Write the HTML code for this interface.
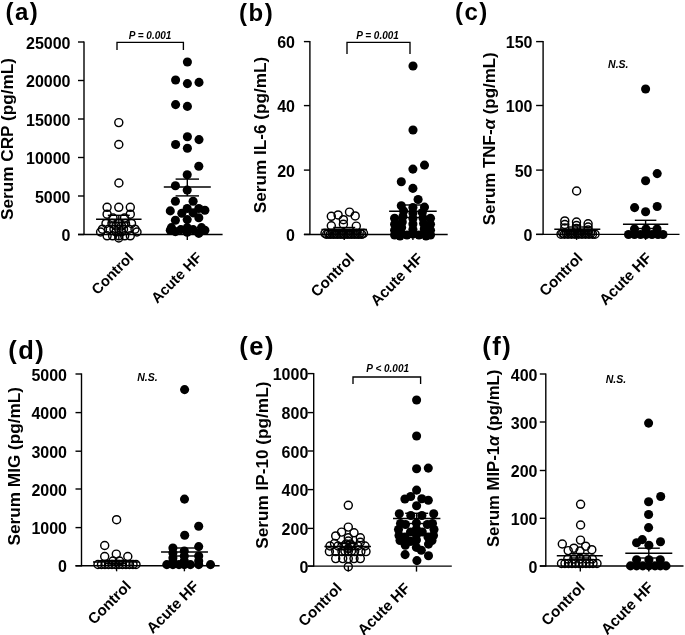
<!DOCTYPE html>
<html><head><meta charset="utf-8"><style>
html,body{margin:0;padding:0;background:#fff;}
svg{display:block;filter:grayscale(100%);}
text{font-family:"Liberation Sans", sans-serif;fill:#000;}
</style></head><body>
<svg width="685" height="635" viewBox="0 0 685 635">
<rect width="685" height="635" fill="#fff"/>
<line x1="84.0" y1="41.4" x2="84.0" y2="235.1" stroke="#000" stroke-width="1.4"/>
<line x1="78.0" y1="42" x2="84.0" y2="42" stroke="#000" stroke-width="1.4"/>
<text x="70.5" y="48.5" font-size="16" font-weight="bold" font-style="normal" text-anchor="end" >25000</text>
<line x1="78.0" y1="80.5" x2="84.0" y2="80.5" stroke="#000" stroke-width="1.4"/>
<text x="70.5" y="87.0" font-size="16" font-weight="bold" font-style="normal" text-anchor="end" >20000</text>
<line x1="78.0" y1="119" x2="84.0" y2="119" stroke="#000" stroke-width="1.4"/>
<text x="70.5" y="125.5" font-size="16" font-weight="bold" font-style="normal" text-anchor="end" >15000</text>
<line x1="78.0" y1="157.5" x2="84.0" y2="157.5" stroke="#000" stroke-width="1.4"/>
<text x="70.5" y="164.0" font-size="16" font-weight="bold" font-style="normal" text-anchor="end" >10000</text>
<line x1="78.0" y1="196" x2="84.0" y2="196" stroke="#000" stroke-width="1.4"/>
<text x="70.5" y="202.5" font-size="16" font-weight="bold" font-style="normal" text-anchor="end" >5000</text>
<line x1="78.0" y1="234.5" x2="84.0" y2="234.5" stroke="#000" stroke-width="1.4"/>
<text x="70.5" y="241.0" font-size="16" font-weight="bold" font-style="normal" text-anchor="end" >0</text>
<line x1="78.0" y1="234.5" x2="222.6" y2="234.5" stroke="#000" stroke-width="1.4"/>
<line x1="118.8" y1="234.5" x2="118.8" y2="240.0" stroke="#000" stroke-width="1.4"/>
<line x1="187.3" y1="234.5" x2="187.3" y2="240.0" stroke="#000" stroke-width="1.4"/>
<circle cx="118.8" cy="122.6" r="4.0" fill="none" stroke="#000" stroke-width="1.45"/>
<circle cx="118.8" cy="144.5" r="4.0" fill="none" stroke="#000" stroke-width="1.45"/>
<circle cx="118.9" cy="183" r="4.0" fill="none" stroke="#000" stroke-width="1.45"/>
<circle cx="107.1" cy="207.3" r="4.0" fill="none" stroke="#000" stroke-width="1.45"/>
<circle cx="118.8" cy="207.3" r="4.0" fill="none" stroke="#000" stroke-width="1.45"/>
<circle cx="130.3" cy="207.3" r="4.0" fill="none" stroke="#000" stroke-width="1.45"/>
<circle cx="107.1" cy="214.2" r="4.0" fill="none" stroke="#000" stroke-width="1.45"/>
<circle cx="130.3" cy="214.2" r="4.0" fill="none" stroke="#000" stroke-width="1.45"/>
<circle cx="113" cy="218" r="4.0" fill="none" stroke="#000" stroke-width="1.45"/>
<circle cx="124.5" cy="218" r="4.0" fill="none" stroke="#000" stroke-width="1.45"/>
<circle cx="106" cy="223.4" r="4.0" fill="none" stroke="#000" stroke-width="1.45"/>
<circle cx="112" cy="223.4" r="4.0" fill="none" stroke="#000" stroke-width="1.45"/>
<circle cx="118.8" cy="223.4" r="4.0" fill="none" stroke="#000" stroke-width="1.45"/>
<circle cx="125.5" cy="223.4" r="4.0" fill="none" stroke="#000" stroke-width="1.45"/>
<circle cx="131.5" cy="223.4" r="4.0" fill="none" stroke="#000" stroke-width="1.45"/>
<circle cx="116" cy="226" r="4.0" fill="none" stroke="#000" stroke-width="1.45"/>
<circle cx="121.5" cy="226" r="4.0" fill="none" stroke="#000" stroke-width="1.45"/>
<circle cx="102.5" cy="229.2" r="4.0" fill="none" stroke="#000" stroke-width="1.45"/>
<circle cx="108.6" cy="229.2" r="4.0" fill="none" stroke="#000" stroke-width="1.45"/>
<circle cx="114" cy="229.2" r="4.0" fill="none" stroke="#000" stroke-width="1.45"/>
<circle cx="118.8" cy="229.2" r="4.0" fill="none" stroke="#000" stroke-width="1.45"/>
<circle cx="123.5" cy="229.2" r="4.0" fill="none" stroke="#000" stroke-width="1.45"/>
<circle cx="129" cy="229.2" r="4.0" fill="none" stroke="#000" stroke-width="1.45"/>
<circle cx="135" cy="229.2" r="4.0" fill="none" stroke="#000" stroke-width="1.45"/>
<circle cx="100.6" cy="232" r="4.0" fill="none" stroke="#000" stroke-width="1.45"/>
<circle cx="116" cy="232" r="4.0" fill="none" stroke="#000" stroke-width="1.45"/>
<circle cx="121.5" cy="232" r="4.0" fill="none" stroke="#000" stroke-width="1.45"/>
<circle cx="137" cy="232" r="4.0" fill="none" stroke="#000" stroke-width="1.45"/>
<circle cx="107.1" cy="235.8" r="4.0" fill="none" stroke="#000" stroke-width="1.45"/>
<circle cx="112.6" cy="235.8" r="4.0" fill="none" stroke="#000" stroke-width="1.45"/>
<circle cx="118.8" cy="235.8" r="4.0" fill="none" stroke="#000" stroke-width="1.45"/>
<circle cx="124.7" cy="235.8" r="4.0" fill="none" stroke="#000" stroke-width="1.45"/>
<circle cx="130.3" cy="235.8" r="4.0" fill="none" stroke="#000" stroke-width="1.45"/>
<circle cx="118.8" cy="238" r="4.0" fill="none" stroke="#000" stroke-width="1.45"/>
<circle cx="187.4" cy="62" r="4.55" fill="#000"/>
<circle cx="175.6" cy="80" r="4.55" fill="#000"/>
<circle cx="187.4" cy="83.6" r="4.55" fill="#000"/>
<circle cx="199" cy="82.4" r="4.55" fill="#000"/>
<circle cx="175.6" cy="104.6" r="4.55" fill="#000"/>
<circle cx="187.4" cy="106.4" r="4.55" fill="#000"/>
<circle cx="187.4" cy="136.8" r="4.55" fill="#000"/>
<circle cx="199" cy="139.6" r="4.55" fill="#000"/>
<circle cx="175.6" cy="144.5" r="4.55" fill="#000"/>
<circle cx="187.4" cy="148.2" r="4.55" fill="#000"/>
<circle cx="198.8" cy="166.3" r="4.55" fill="#000"/>
<circle cx="187.2" cy="174.7" r="4.55" fill="#000"/>
<circle cx="175.4" cy="185.7" r="4.55" fill="#000"/>
<circle cx="187.2" cy="190.1" r="4.55" fill="#000"/>
<circle cx="175.4" cy="201.2" r="4.55" fill="#000"/>
<circle cx="193.1" cy="201.2" r="4.55" fill="#000"/>
<circle cx="170.3" cy="210.9" r="4.55" fill="#000"/>
<circle cx="187.2" cy="208.5" r="4.55" fill="#000"/>
<circle cx="198.8" cy="208.5" r="4.55" fill="#000"/>
<circle cx="204.9" cy="210.2" r="4.55" fill="#000"/>
<circle cx="181.8" cy="213.3" r="4.55" fill="#000"/>
<circle cx="193.1" cy="212.9" r="4.55" fill="#000"/>
<circle cx="175.4" cy="220.2" r="4.55" fill="#000"/>
<circle cx="187.2" cy="219.6" r="4.55" fill="#000"/>
<circle cx="198.8" cy="217.8" r="4.55" fill="#000"/>
<circle cx="171.4" cy="227.6" r="4.55" fill="#000"/>
<circle cx="170.3" cy="230.3" r="4.55" fill="#000"/>
<circle cx="187.2" cy="227.6" r="4.55" fill="#000"/>
<circle cx="180.8" cy="229.6" r="4.55" fill="#000"/>
<circle cx="193.1" cy="229.6" r="4.55" fill="#000"/>
<circle cx="201.5" cy="227.6" r="4.55" fill="#000"/>
<circle cx="204.9" cy="230.3" r="4.55" fill="#000"/>
<circle cx="198.8" cy="233.4" r="4.55" fill="#000"/>
<circle cx="187.2" cy="232.3" r="4.55" fill="#000"/>
<circle cx="175.4" cy="231.6" r="4.55" fill="#000"/>
<line x1="96.05" y1="219.2" x2="141.55" y2="219.2" stroke="#000" stroke-width="1.5"/>
<line x1="107.8" y1="215.3" x2="129.8" y2="215.3" stroke="#000" stroke-width="1.4"/>
<line x1="107.8" y1="222.8" x2="129.8" y2="222.8" stroke="#000" stroke-width="1.4"/>
<line x1="118.8" y1="215.3" x2="118.8" y2="222.8" stroke="#000" stroke-width="1.4"/>
<line x1="163.8" y1="186.9" x2="210.8" y2="186.9" stroke="#000" stroke-width="1.5"/>
<line x1="175.60000000000002" y1="179.1" x2="199.0" y2="179.1" stroke="#000" stroke-width="1.4"/>
<line x1="175.60000000000002" y1="195.9" x2="199.0" y2="195.9" stroke="#000" stroke-width="1.4"/>
<line x1="187.3" y1="179.1" x2="187.3" y2="195.9" stroke="#000" stroke-width="1.4"/>
<polyline points="117,50 117,42.4 183.4,42.4 183.4,50" fill="none" stroke="#000" stroke-width="1.35"/>
<text x="150" y="38.5" font-size="10" font-weight="bold" font-style="italic" text-anchor="middle" >P = 0.001</text>
<text x="5.5" y="19.7" font-size="24" font-weight="bold" font-style="normal" text-anchor="start" letter-spacing="1.5">(a)</text>
<text transform="translate(13.4,139) rotate(-90)" font-size="17.2" font-weight="bold" text-anchor="middle">Serum CRP (pg/mL)</text>
<text transform="translate(134.3,258.5) rotate(-45)" font-size="14.7" font-weight="bold" text-anchor="end">Control</text>
<text transform="translate(202.8,258.5) rotate(-45)" font-size="14.7" font-weight="bold" text-anchor="end">Acute HF</text>
<line x1="309.9" y1="41.0" x2="309.9" y2="235.1" stroke="#000" stroke-width="1.4"/>
<line x1="303.9" y1="41.6" x2="309.9" y2="41.6" stroke="#000" stroke-width="1.4"/>
<text x="295" y="48.1" font-size="16" font-weight="bold" font-style="normal" text-anchor="end" >60</text>
<line x1="303.9" y1="105.6" x2="309.9" y2="105.6" stroke="#000" stroke-width="1.4"/>
<text x="295" y="112.1" font-size="16" font-weight="bold" font-style="normal" text-anchor="end" >40</text>
<line x1="303.9" y1="170.1" x2="309.9" y2="170.1" stroke="#000" stroke-width="1.4"/>
<text x="295" y="176.6" font-size="16" font-weight="bold" font-style="normal" text-anchor="end" >20</text>
<line x1="303.9" y1="234.4" x2="309.9" y2="234.4" stroke="#000" stroke-width="1.4"/>
<text x="295" y="240.9" font-size="16" font-weight="bold" font-style="normal" text-anchor="end" >0</text>
<line x1="303.9" y1="234.5" x2="447.7" y2="234.5" stroke="#000" stroke-width="1.4"/>
<line x1="344.2" y1="234.5" x2="344.2" y2="240.0" stroke="#000" stroke-width="1.4"/>
<line x1="412.9" y1="234.5" x2="412.9" y2="240.0" stroke="#000" stroke-width="1.4"/>
<circle cx="331.3" cy="216.3" r="4.0" fill="none" stroke="#000" stroke-width="1.45"/>
<circle cx="338.1" cy="214.9" r="4.0" fill="none" stroke="#000" stroke-width="1.45"/>
<circle cx="349.5" cy="212.1" r="4.0" fill="none" stroke="#000" stroke-width="1.45"/>
<circle cx="355.2" cy="215.9" r="4.0" fill="none" stroke="#000" stroke-width="1.45"/>
<circle cx="343.4" cy="219.7" r="4.0" fill="none" stroke="#000" stroke-width="1.45"/>
<circle cx="331.3" cy="225.8" r="4.0" fill="none" stroke="#000" stroke-width="1.45"/>
<circle cx="343.4" cy="224.2" r="4.0" fill="none" stroke="#000" stroke-width="1.45"/>
<circle cx="356.3" cy="226.1" r="4.0" fill="none" stroke="#000" stroke-width="1.45"/>
<circle cx="325" cy="233.3" r="4.0" fill="none" stroke="#000" stroke-width="1.45"/>
<circle cx="328.5" cy="233.3" r="4.0" fill="none" stroke="#000" stroke-width="1.45"/>
<circle cx="332" cy="233.3" r="4.0" fill="none" stroke="#000" stroke-width="1.45"/>
<circle cx="335.5" cy="233.3" r="4.0" fill="none" stroke="#000" stroke-width="1.45"/>
<circle cx="339" cy="233.3" r="4.0" fill="none" stroke="#000" stroke-width="1.45"/>
<circle cx="342.5" cy="233.3" r="4.0" fill="none" stroke="#000" stroke-width="1.45"/>
<circle cx="346" cy="233.3" r="4.0" fill="none" stroke="#000" stroke-width="1.45"/>
<circle cx="349.5" cy="233.3" r="4.0" fill="none" stroke="#000" stroke-width="1.45"/>
<circle cx="353" cy="233.3" r="4.0" fill="none" stroke="#000" stroke-width="1.45"/>
<circle cx="356.5" cy="233.3" r="4.0" fill="none" stroke="#000" stroke-width="1.45"/>
<circle cx="360" cy="233.3" r="4.0" fill="none" stroke="#000" stroke-width="1.45"/>
<circle cx="363.5" cy="233.3" r="4.0" fill="none" stroke="#000" stroke-width="1.45"/>
<circle cx="326.7" cy="234.3" r="4.0" fill="none" stroke="#000" stroke-width="1.45"/>
<circle cx="330.2" cy="234.3" r="4.0" fill="none" stroke="#000" stroke-width="1.45"/>
<circle cx="333.7" cy="234.3" r="4.0" fill="none" stroke="#000" stroke-width="1.45"/>
<circle cx="337.2" cy="234.3" r="4.0" fill="none" stroke="#000" stroke-width="1.45"/>
<circle cx="340.7" cy="234.3" r="4.0" fill="none" stroke="#000" stroke-width="1.45"/>
<circle cx="344.2" cy="234.3" r="4.0" fill="none" stroke="#000" stroke-width="1.45"/>
<circle cx="347.7" cy="234.3" r="4.0" fill="none" stroke="#000" stroke-width="1.45"/>
<circle cx="351.2" cy="234.3" r="4.0" fill="none" stroke="#000" stroke-width="1.45"/>
<circle cx="354.7" cy="234.3" r="4.0" fill="none" stroke="#000" stroke-width="1.45"/>
<circle cx="358.2" cy="234.3" r="4.0" fill="none" stroke="#000" stroke-width="1.45"/>
<circle cx="361.7" cy="234.3" r="4.0" fill="none" stroke="#000" stroke-width="1.45"/>
<circle cx="413" cy="66" r="4.55" fill="#000"/>
<circle cx="413" cy="130" r="4.55" fill="#000"/>
<circle cx="424.5" cy="165.1" r="4.55" fill="#000"/>
<circle cx="412.9" cy="169.1" r="4.55" fill="#000"/>
<circle cx="401.3" cy="181.8" r="4.55" fill="#000"/>
<circle cx="412.9" cy="188.4" r="4.55" fill="#000"/>
<circle cx="418.1" cy="199.5" r="4.55" fill="#000"/>
<circle cx="401.3" cy="205.8" r="4.55" fill="#000"/>
<circle cx="424.5" cy="207.1" r="4.55" fill="#000"/>
<circle cx="412.9" cy="207.5" r="4.55" fill="#000"/>
<circle cx="412.9" cy="213" r="4.55" fill="#000"/>
<circle cx="412.9" cy="218.5" r="4.55" fill="#000"/>
<circle cx="412.9" cy="224" r="4.55" fill="#000"/>
<circle cx="412.9" cy="229.5" r="4.55" fill="#000"/>
<circle cx="412.9" cy="234" r="4.55" fill="#000"/>
<circle cx="403.6" cy="211" r="4.55" fill="#000"/>
<circle cx="402.94" cy="216.5" r="4.55" fill="#000"/>
<circle cx="402.28000000000003" cy="222" r="4.55" fill="#000"/>
<circle cx="401.62" cy="227.5" r="4.55" fill="#000"/>
<circle cx="400.96000000000004" cy="233" r="4.55" fill="#000"/>
<circle cx="422.3" cy="212.5" r="4.55" fill="#000"/>
<circle cx="422.96000000000004" cy="218" r="4.55" fill="#000"/>
<circle cx="423.62" cy="223.5" r="4.55" fill="#000"/>
<circle cx="424.28000000000003" cy="229" r="4.55" fill="#000"/>
<circle cx="424.88" cy="234" r="4.55" fill="#000"/>
<circle cx="394.6" cy="218.3" r="4.55" fill="#000"/>
<circle cx="394.6" cy="224.3" r="4.55" fill="#000"/>
<circle cx="394.6" cy="230.3" r="4.55" fill="#000"/>
<circle cx="394.6" cy="235" r="4.55" fill="#000"/>
<circle cx="430.5" cy="218.3" r="4.55" fill="#000"/>
<circle cx="430.5" cy="224.3" r="4.55" fill="#000"/>
<circle cx="430.5" cy="230.3" r="4.55" fill="#000"/>
<circle cx="430.5" cy="235" r="4.55" fill="#000"/>
<circle cx="407" cy="235" r="4.55" fill="#000"/>
<circle cx="419" cy="235" r="4.55" fill="#000"/>
<circle cx="400" cy="236" r="4.55" fill="#000"/>
<circle cx="426" cy="236" r="4.55" fill="#000"/>
<line x1="321.4" y1="229.5" x2="367.0" y2="229.5" stroke="#000" stroke-width="1.5"/>
<line x1="333.2" y1="227.5" x2="355.2" y2="227.5" stroke="#000" stroke-width="1.4"/>
<line x1="333.2" y1="231.5" x2="355.2" y2="231.5" stroke="#000" stroke-width="1.4"/>
<line x1="344.2" y1="227.5" x2="344.2" y2="231.5" stroke="#000" stroke-width="1.4"/>
<line x1="389.09999999999997" y1="211.3" x2="436.7" y2="211.3" stroke="#000" stroke-width="1.5"/>
<line x1="400.9" y1="205" x2="424.9" y2="205" stroke="#000" stroke-width="1.4"/>
<line x1="400.9" y1="217.5" x2="424.9" y2="217.5" stroke="#000" stroke-width="1.4"/>
<line x1="412.9" y1="205" x2="412.9" y2="217.5" stroke="#000" stroke-width="1.4"/>
<polyline points="347,54 347,42.4 410,42.4 410,54" fill="none" stroke="#000" stroke-width="1.35"/>
<text x="377.5" y="39" font-size="10" font-weight="bold" font-style="italic" text-anchor="middle" >P = 0.001</text>
<text x="239" y="20.5" font-size="24" font-weight="bold" font-style="normal" text-anchor="start" letter-spacing="1.5">(b)</text>
<text transform="translate(265.6,135) rotate(-90)" font-size="17.2" font-weight="bold" text-anchor="middle">Serum IL-6 (pg/mL)</text>
<text transform="translate(355.2,259.5) rotate(-45)" font-size="15.2" font-weight="bold" text-anchor="end">Control</text>
<text transform="translate(423.9,259.5) rotate(-45)" font-size="15.2" font-weight="bold" text-anchor="end">Acute HF</text>
<line x1="543.1" y1="41.0" x2="543.1" y2="235.0" stroke="#000" stroke-width="1.4"/>
<line x1="536.1" y1="41.6" x2="543.1" y2="41.6" stroke="#000" stroke-width="1.4"/>
<text x="532.5" y="48.1" font-size="16" font-weight="bold" font-style="normal" text-anchor="end" >150</text>
<line x1="536.1" y1="105.5" x2="543.1" y2="105.5" stroke="#000" stroke-width="1.4"/>
<text x="532.5" y="112.0" font-size="16" font-weight="bold" font-style="normal" text-anchor="end" >100</text>
<line x1="536.1" y1="170.1" x2="543.1" y2="170.1" stroke="#000" stroke-width="1.4"/>
<text x="532.5" y="176.6" font-size="16" font-weight="bold" font-style="normal" text-anchor="end" >50</text>
<line x1="536.1" y1="234.4" x2="543.1" y2="234.4" stroke="#000" stroke-width="1.4"/>
<text x="532.5" y="240.9" font-size="16" font-weight="bold" font-style="normal" text-anchor="end" >0</text>
<line x1="536.1" y1="234.4" x2="679.5" y2="234.4" stroke="#000" stroke-width="1.4"/>
<line x1="576.6" y1="234.4" x2="576.6" y2="239.9" stroke="#000" stroke-width="1.4"/>
<line x1="645.6" y1="234.4" x2="645.6" y2="239.9" stroke="#000" stroke-width="1.4"/>
<circle cx="576.6" cy="191" r="4.0" fill="none" stroke="#000" stroke-width="1.45"/>
<circle cx="564.8" cy="220.9" r="4.0" fill="none" stroke="#000" stroke-width="1.45"/>
<circle cx="564.8" cy="224.5" r="4.0" fill="none" stroke="#000" stroke-width="1.45"/>
<circle cx="564.8" cy="228" r="4.0" fill="none" stroke="#000" stroke-width="1.45"/>
<circle cx="576.5" cy="222" r="4.0" fill="none" stroke="#000" stroke-width="1.45"/>
<circle cx="576.5" cy="225.5" r="4.0" fill="none" stroke="#000" stroke-width="1.45"/>
<circle cx="576.5" cy="228.5" r="4.0" fill="none" stroke="#000" stroke-width="1.45"/>
<circle cx="588.1" cy="223.8" r="4.0" fill="none" stroke="#000" stroke-width="1.45"/>
<circle cx="588.1" cy="227" r="4.0" fill="none" stroke="#000" stroke-width="1.45"/>
<circle cx="588.1" cy="230" r="4.0" fill="none" stroke="#000" stroke-width="1.45"/>
<circle cx="561" cy="234.2" r="4.0" fill="none" stroke="#000" stroke-width="1.45"/>
<circle cx="564.5" cy="234.2" r="4.0" fill="none" stroke="#000" stroke-width="1.45"/>
<circle cx="568" cy="234.2" r="4.0" fill="none" stroke="#000" stroke-width="1.45"/>
<circle cx="571.5" cy="234.2" r="4.0" fill="none" stroke="#000" stroke-width="1.45"/>
<circle cx="575" cy="234.2" r="4.0" fill="none" stroke="#000" stroke-width="1.45"/>
<circle cx="578.5" cy="234.2" r="4.0" fill="none" stroke="#000" stroke-width="1.45"/>
<circle cx="582" cy="234.2" r="4.0" fill="none" stroke="#000" stroke-width="1.45"/>
<circle cx="585.5" cy="234.2" r="4.0" fill="none" stroke="#000" stroke-width="1.45"/>
<circle cx="589" cy="234.2" r="4.0" fill="none" stroke="#000" stroke-width="1.45"/>
<circle cx="592.5" cy="234.2" r="4.0" fill="none" stroke="#000" stroke-width="1.45"/>
<circle cx="595" cy="234.2" r="4.0" fill="none" stroke="#000" stroke-width="1.45"/>
<circle cx="562.8" cy="233.3" r="4.0" fill="none" stroke="#000" stroke-width="1.45"/>
<circle cx="566.3" cy="233.3" r="4.0" fill="none" stroke="#000" stroke-width="1.45"/>
<circle cx="569.8" cy="233.3" r="4.0" fill="none" stroke="#000" stroke-width="1.45"/>
<circle cx="573.3" cy="233.3" r="4.0" fill="none" stroke="#000" stroke-width="1.45"/>
<circle cx="576.8" cy="233.3" r="4.0" fill="none" stroke="#000" stroke-width="1.45"/>
<circle cx="580.3" cy="233.3" r="4.0" fill="none" stroke="#000" stroke-width="1.45"/>
<circle cx="583.8" cy="233.3" r="4.0" fill="none" stroke="#000" stroke-width="1.45"/>
<circle cx="587.3" cy="233.3" r="4.0" fill="none" stroke="#000" stroke-width="1.45"/>
<circle cx="590.8" cy="233.3" r="4.0" fill="none" stroke="#000" stroke-width="1.45"/>
<circle cx="645.6" cy="89" r="4.55" fill="#000"/>
<circle cx="657.2" cy="173.6" r="4.55" fill="#000"/>
<circle cx="645.6" cy="180.7" r="4.55" fill="#000"/>
<circle cx="634.6" cy="207.6" r="4.55" fill="#000"/>
<circle cx="657.2" cy="206.5" r="4.55" fill="#000"/>
<circle cx="645.6" cy="211.7" r="4.55" fill="#000"/>
<circle cx="634.5" cy="229" r="4.55" fill="#000"/>
<circle cx="646" cy="229" r="4.55" fill="#000"/>
<circle cx="657" cy="229" r="4.55" fill="#000"/>
<circle cx="628.5" cy="234.5" r="4.55" fill="#000"/>
<circle cx="634.5" cy="234.5" r="4.55" fill="#000"/>
<circle cx="640.5" cy="234.5" r="4.55" fill="#000"/>
<circle cx="646" cy="234.5" r="4.55" fill="#000"/>
<circle cx="652" cy="234.5" r="4.55" fill="#000"/>
<circle cx="658" cy="234.5" r="4.55" fill="#000"/>
<circle cx="663" cy="234.5" r="4.55" fill="#000"/>
<line x1="554.3" y1="229.3" x2="600.3" y2="229.3" stroke="#000" stroke-width="1.5"/>
<line x1="567.3" y1="227" x2="587.3" y2="227" stroke="#000" stroke-width="1.4"/>
<line x1="567.3" y1="231.5" x2="587.3" y2="231.5" stroke="#000" stroke-width="1.4"/>
<line x1="577.3" y1="227" x2="577.3" y2="231.5" stroke="#000" stroke-width="1.4"/>
<line x1="622.95" y1="224.2" x2="668.25" y2="224.2" stroke="#000" stroke-width="1.5"/>
<line x1="634.85" y1="220.3" x2="656.35" y2="220.3" stroke="#000" stroke-width="1.4"/>
<line x1="634.85" y1="228.5" x2="656.35" y2="228.5" stroke="#000" stroke-width="1.4"/>
<line x1="645.6" y1="220.3" x2="645.6" y2="228.5" stroke="#000" stroke-width="1.4"/>
<text x="618.3" y="68" font-size="10.5" font-weight="bold" font-style="italic" text-anchor="middle" >N.S.</text>
<text x="455" y="19.5" font-size="24" font-weight="bold" font-style="normal" text-anchor="start" letter-spacing="1.5">(c)</text>
<text transform="translate(495.2,138.8) rotate(-90)" font-size="16.9" font-weight="bold" text-anchor="middle">Serum TNF-<tspan font-style="italic">α</tspan> (pg/mL)</text>
<text transform="translate(583.6,258.9) rotate(-45)" font-size="15.2" font-weight="bold" text-anchor="end">Control</text>
<text transform="translate(652.6,258.9) rotate(-45)" font-size="15.2" font-weight="bold" text-anchor="end">Acute HF</text>
<line x1="81.5" y1="373.4" x2="81.5" y2="566.4" stroke="#000" stroke-width="1.4"/>
<line x1="75.5" y1="374" x2="81.5" y2="374" stroke="#000" stroke-width="1.4"/>
<text x="67" y="380.5" font-size="16" font-weight="bold" font-style="normal" text-anchor="end" >5000</text>
<line x1="75.5" y1="412.6" x2="81.5" y2="412.6" stroke="#000" stroke-width="1.4"/>
<text x="67" y="419.1" font-size="16" font-weight="bold" font-style="normal" text-anchor="end" >4000</text>
<line x1="75.5" y1="451.2" x2="81.5" y2="451.2" stroke="#000" stroke-width="1.4"/>
<text x="67" y="457.7" font-size="16" font-weight="bold" font-style="normal" text-anchor="end" >3000</text>
<line x1="75.5" y1="489" x2="81.5" y2="489" stroke="#000" stroke-width="1.4"/>
<text x="67" y="495.5" font-size="16" font-weight="bold" font-style="normal" text-anchor="end" >2000</text>
<line x1="75.5" y1="527.6" x2="81.5" y2="527.6" stroke="#000" stroke-width="1.4"/>
<text x="67" y="534.1" font-size="16" font-weight="bold" font-style="normal" text-anchor="end" >1000</text>
<line x1="75.5" y1="565.8" x2="81.5" y2="565.8" stroke="#000" stroke-width="1.4"/>
<text x="67" y="572.3" font-size="16" font-weight="bold" font-style="normal" text-anchor="end" >0</text>
<line x1="75.5" y1="565.8" x2="219.6" y2="565.8" stroke="#000" stroke-width="1.4"/>
<line x1="116.6" y1="565.8" x2="116.6" y2="571.3" stroke="#000" stroke-width="1.4"/>
<line x1="184.4" y1="565.8" x2="184.4" y2="571.3" stroke="#000" stroke-width="1.4"/>
<circle cx="116.6" cy="519.7" r="4.0" fill="none" stroke="#000" stroke-width="1.45"/>
<circle cx="104.7" cy="545.5" r="4.0" fill="none" stroke="#000" stroke-width="1.45"/>
<circle cx="104.7" cy="556.5" r="4.0" fill="none" stroke="#000" stroke-width="1.45"/>
<circle cx="116.3" cy="554.1" r="4.0" fill="none" stroke="#000" stroke-width="1.45"/>
<circle cx="127.8" cy="556.5" r="4.0" fill="none" stroke="#000" stroke-width="1.45"/>
<circle cx="113" cy="561" r="4.0" fill="none" stroke="#000" stroke-width="1.45"/>
<circle cx="119.5" cy="561" r="4.0" fill="none" stroke="#000" stroke-width="1.45"/>
<circle cx="98" cy="564.5" r="4.0" fill="none" stroke="#000" stroke-width="1.45"/>
<circle cx="101.5" cy="564.5" r="4.0" fill="none" stroke="#000" stroke-width="1.45"/>
<circle cx="105" cy="564.5" r="4.0" fill="none" stroke="#000" stroke-width="1.45"/>
<circle cx="108.5" cy="564.5" r="4.0" fill="none" stroke="#000" stroke-width="1.45"/>
<circle cx="112" cy="564.5" r="4.0" fill="none" stroke="#000" stroke-width="1.45"/>
<circle cx="115.5" cy="564.5" r="4.0" fill="none" stroke="#000" stroke-width="1.45"/>
<circle cx="119" cy="564.5" r="4.0" fill="none" stroke="#000" stroke-width="1.45"/>
<circle cx="122.5" cy="564.5" r="4.0" fill="none" stroke="#000" stroke-width="1.45"/>
<circle cx="126" cy="564.5" r="4.0" fill="none" stroke="#000" stroke-width="1.45"/>
<circle cx="129.5" cy="564.5" r="4.0" fill="none" stroke="#000" stroke-width="1.45"/>
<circle cx="133" cy="564.5" r="4.0" fill="none" stroke="#000" stroke-width="1.45"/>
<circle cx="136" cy="564.5" r="4.0" fill="none" stroke="#000" stroke-width="1.45"/>
<circle cx="184.6" cy="389.6" r="4.55" fill="#000"/>
<circle cx="184.5" cy="499.1" r="4.55" fill="#000"/>
<circle cx="198.7" cy="526.3" r="4.55" fill="#000"/>
<circle cx="184.7" cy="535.3" r="4.55" fill="#000"/>
<circle cx="198.7" cy="546.6" r="4.55" fill="#000"/>
<circle cx="172.9" cy="548" r="4.55" fill="#000"/>
<circle cx="172.9" cy="553" r="4.55" fill="#000"/>
<circle cx="172.9" cy="558" r="4.55" fill="#000"/>
<circle cx="172.9" cy="562" r="4.55" fill="#000"/>
<circle cx="184.3" cy="551" r="4.55" fill="#000"/>
<circle cx="184.3" cy="556" r="4.55" fill="#000"/>
<circle cx="198.7" cy="556" r="4.55" fill="#000"/>
<circle cx="184.3" cy="561" r="4.55" fill="#000"/>
<circle cx="198.7" cy="561" r="4.55" fill="#000"/>
<circle cx="166.8" cy="564.6" r="4.55" fill="#000"/>
<circle cx="172.9" cy="564.6" r="4.55" fill="#000"/>
<circle cx="179" cy="564.6" r="4.55" fill="#000"/>
<circle cx="184.3" cy="564.6" r="4.55" fill="#000"/>
<circle cx="190.4" cy="564.6" r="4.55" fill="#000"/>
<circle cx="198.7" cy="564.6" r="4.55" fill="#000"/>
<circle cx="210.5" cy="564.6" r="4.55" fill="#000"/>
<line x1="93.0" y1="562" x2="139.0" y2="562" stroke="#000" stroke-width="1.5"/>
<line x1="106.0" y1="560.5" x2="126.0" y2="560.5" stroke="#000" stroke-width="1.4"/>
<line x1="106.0" y1="563.5" x2="126.0" y2="563.5" stroke="#000" stroke-width="1.4"/>
<line x1="116" y1="560.5" x2="116" y2="563.5" stroke="#000" stroke-width="1.4"/>
<line x1="161.05" y1="551.9" x2="207.95" y2="551.9" stroke="#000" stroke-width="1.5"/>
<line x1="171.6" y1="548" x2="197.4" y2="548" stroke="#000" stroke-width="1.4"/>
<line x1="171.6" y1="556" x2="197.4" y2="556" stroke="#000" stroke-width="1.4"/>
<line x1="184.5" y1="548" x2="184.5" y2="556" stroke="#000" stroke-width="1.4"/>
<text x="147.5" y="381.4" font-size="10.5" font-weight="bold" font-style="italic" text-anchor="middle" >N.S.</text>
<text x="8.3" y="358.5" font-size="25.5" font-weight="bold" font-style="normal" text-anchor="start" letter-spacing="1.5">(d)</text>
<text transform="translate(19.6,466.2) rotate(-90)" font-size="17.2" font-weight="bold" text-anchor="middle">Serum MIG (pg/mL)</text>
<text transform="translate(132.1,587.0999999999999) rotate(-45)" font-size="15.2" font-weight="bold" text-anchor="end">Control</text>
<text transform="translate(199.9,587.0999999999999) rotate(-45)" font-size="15.2" font-weight="bold" text-anchor="end">Acute HF</text>
<line x1="313.7" y1="373.0" x2="313.7" y2="566.7" stroke="#000" stroke-width="1.4"/>
<line x1="307.7" y1="373.6" x2="313.7" y2="373.6" stroke="#000" stroke-width="1.4"/>
<text x="308.3" y="380.1" font-size="16" font-weight="bold" font-style="normal" text-anchor="end" >1000</text>
<line x1="307.7" y1="412.6" x2="313.7" y2="412.6" stroke="#000" stroke-width="1.4"/>
<text x="308.3" y="419.1" font-size="16" font-weight="bold" font-style="normal" text-anchor="end" >800</text>
<line x1="307.7" y1="451" x2="313.7" y2="451" stroke="#000" stroke-width="1.4"/>
<text x="308.3" y="457.5" font-size="16" font-weight="bold" font-style="normal" text-anchor="end" >600</text>
<line x1="307.7" y1="489.6" x2="313.7" y2="489.6" stroke="#000" stroke-width="1.4"/>
<text x="308.3" y="496.1" font-size="16" font-weight="bold" font-style="normal" text-anchor="end" >400</text>
<line x1="307.7" y1="528.4" x2="313.7" y2="528.4" stroke="#000" stroke-width="1.4"/>
<text x="308.3" y="534.9" font-size="16" font-weight="bold" font-style="normal" text-anchor="end" >200</text>
<line x1="307.7" y1="566.1" x2="313.7" y2="566.1" stroke="#000" stroke-width="1.4"/>
<text x="308.3" y="572.6" font-size="16" font-weight="bold" font-style="normal" text-anchor="end" >0</text>
<line x1="307.7" y1="566.1" x2="451.8" y2="566.1" stroke="#000" stroke-width="1.4"/>
<line x1="348.3" y1="566.1" x2="348.3" y2="571.6" stroke="#000" stroke-width="1.4"/>
<line x1="416.5" y1="566.1" x2="416.5" y2="571.6" stroke="#000" stroke-width="1.4"/>
<circle cx="348.3" cy="505.3" r="4.0" fill="none" stroke="#000" stroke-width="1.45"/>
<circle cx="348.3" cy="527.1" r="4.0" fill="none" stroke="#000" stroke-width="1.45"/>
<circle cx="341.6" cy="532.1" r="4.0" fill="none" stroke="#000" stroke-width="1.45"/>
<circle cx="354" cy="532.8" r="4.0" fill="none" stroke="#000" stroke-width="1.45"/>
<circle cx="335.7" cy="535.9" r="4.0" fill="none" stroke="#000" stroke-width="1.45"/>
<circle cx="360.3" cy="537.8" r="4.0" fill="none" stroke="#000" stroke-width="1.45"/>
<circle cx="348.3" cy="537.8" r="4.0" fill="none" stroke="#000" stroke-width="1.45"/>
<circle cx="334.5" cy="543.5" r="4.0" fill="none" stroke="#000" stroke-width="1.45"/>
<circle cx="360.3" cy="542.2" r="4.0" fill="none" stroke="#000" stroke-width="1.45"/>
<circle cx="348.3" cy="541" r="4.0" fill="none" stroke="#000" stroke-width="1.45"/>
<circle cx="330" cy="546" r="4.0" fill="none" stroke="#000" stroke-width="1.45"/>
<circle cx="338" cy="546" r="4.0" fill="none" stroke="#000" stroke-width="1.45"/>
<circle cx="344" cy="546" r="4.0" fill="none" stroke="#000" stroke-width="1.45"/>
<circle cx="352" cy="546" r="4.0" fill="none" stroke="#000" stroke-width="1.45"/>
<circle cx="358" cy="546" r="4.0" fill="none" stroke="#000" stroke-width="1.45"/>
<circle cx="365" cy="546" r="4.0" fill="none" stroke="#000" stroke-width="1.45"/>
<circle cx="329.4" cy="551.6" r="4.0" fill="none" stroke="#000" stroke-width="1.45"/>
<circle cx="335.7" cy="551.6" r="4.0" fill="none" stroke="#000" stroke-width="1.45"/>
<circle cx="342" cy="551.6" r="4.0" fill="none" stroke="#000" stroke-width="1.45"/>
<circle cx="348.3" cy="551.6" r="4.0" fill="none" stroke="#000" stroke-width="1.45"/>
<circle cx="354.6" cy="551.6" r="4.0" fill="none" stroke="#000" stroke-width="1.45"/>
<circle cx="360.9" cy="551.6" r="4.0" fill="none" stroke="#000" stroke-width="1.45"/>
<circle cx="366" cy="551.6" r="4.0" fill="none" stroke="#000" stroke-width="1.45"/>
<circle cx="335.7" cy="558.6" r="4.0" fill="none" stroke="#000" stroke-width="1.45"/>
<circle cx="342.7" cy="558.6" r="4.0" fill="none" stroke="#000" stroke-width="1.45"/>
<circle cx="348.3" cy="558.6" r="4.0" fill="none" stroke="#000" stroke-width="1.45"/>
<circle cx="354" cy="558.6" r="4.0" fill="none" stroke="#000" stroke-width="1.45"/>
<circle cx="360.3" cy="558.6" r="4.0" fill="none" stroke="#000" stroke-width="1.45"/>
<circle cx="348.3" cy="566.7" r="4.0" fill="none" stroke="#000" stroke-width="1.45"/>
<circle cx="346" cy="544" r="4.0" fill="none" stroke="#000" stroke-width="1.45"/>
<circle cx="350.5" cy="544" r="4.0" fill="none" stroke="#000" stroke-width="1.45"/>
<circle cx="348.3" cy="548.5" r="4.0" fill="none" stroke="#000" stroke-width="1.45"/>
<circle cx="345" cy="551" r="4.0" fill="none" stroke="#000" stroke-width="1.45"/>
<circle cx="351.5" cy="551" r="4.0" fill="none" stroke="#000" stroke-width="1.45"/>
<circle cx="416.6" cy="400" r="4.55" fill="#000"/>
<circle cx="416.6" cy="436" r="4.55" fill="#000"/>
<circle cx="416.6" cy="468.8" r="4.55" fill="#000"/>
<circle cx="428.3" cy="468.1" r="4.55" fill="#000"/>
<circle cx="416.6" cy="490.1" r="4.55" fill="#000"/>
<circle cx="410.7" cy="496.5" r="4.55" fill="#000"/>
<circle cx="404.9" cy="499" r="4.55" fill="#000"/>
<circle cx="421.8" cy="498.8" r="4.55" fill="#000"/>
<circle cx="428.3" cy="500.2" r="4.55" fill="#000"/>
<circle cx="416.6" cy="505.7" r="4.55" fill="#000"/>
<circle cx="399.3" cy="513.8" r="4.55" fill="#000"/>
<circle cx="410.8" cy="515.5" r="4.55" fill="#000"/>
<circle cx="421.9" cy="515.5" r="4.55" fill="#000"/>
<circle cx="433.7" cy="513.8" r="4.55" fill="#000"/>
<circle cx="400.5" cy="523.5" r="4.55" fill="#000"/>
<circle cx="398.5" cy="529.5" r="4.55" fill="#000"/>
<circle cx="399" cy="535.5" r="4.55" fill="#000"/>
<circle cx="400" cy="540.5" r="4.55" fill="#000"/>
<circle cx="416.4" cy="523" r="4.55" fill="#000"/>
<circle cx="416.4" cy="529" r="4.55" fill="#000"/>
<circle cx="416.4" cy="535" r="4.55" fill="#000"/>
<circle cx="416.4" cy="540" r="4.55" fill="#000"/>
<circle cx="432.5" cy="523.5" r="4.55" fill="#000"/>
<circle cx="434" cy="529.5" r="4.55" fill="#000"/>
<circle cx="433.5" cy="535.5" r="4.55" fill="#000"/>
<circle cx="432" cy="540.5" r="4.55" fill="#000"/>
<circle cx="405" cy="537" r="4.55" fill="#000"/>
<circle cx="428" cy="537" r="4.55" fill="#000"/>
<circle cx="405.5" cy="524.5" r="4.55" fill="#000"/>
<circle cx="410.5" cy="532" r="4.55" fill="#000"/>
<circle cx="427.3" cy="524.5" r="4.55" fill="#000"/>
<circle cx="422.3" cy="532" r="4.55" fill="#000"/>
<circle cx="410.8" cy="541.4" r="4.55" fill="#000"/>
<circle cx="405.3" cy="545.2" r="4.55" fill="#000"/>
<circle cx="428.5" cy="544.1" r="4.55" fill="#000"/>
<circle cx="416.4" cy="547.4" r="4.55" fill="#000"/>
<circle cx="421.3" cy="550.2" r="4.55" fill="#000"/>
<circle cx="405.1" cy="554.6" r="4.55" fill="#000"/>
<circle cx="428.5" cy="555.7" r="4.55" fill="#000"/>
<circle cx="416.9" cy="560.6" r="4.55" fill="#000"/>
<line x1="324.4" y1="546.6" x2="371.0" y2="546.6" stroke="#000" stroke-width="1.5"/>
<line x1="337.7" y1="543.5" x2="357.7" y2="543.5" stroke="#000" stroke-width="1.4"/>
<line x1="337.7" y1="549.5" x2="357.7" y2="549.5" stroke="#000" stroke-width="1.4"/>
<line x1="347.7" y1="543.5" x2="347.7" y2="549.5" stroke="#000" stroke-width="1.4"/>
<line x1="393.0" y1="518.4" x2="440.4" y2="518.4" stroke="#000" stroke-width="1.5"/>
<line x1="405.2" y1="513.3" x2="428.2" y2="513.3" stroke="#000" stroke-width="1.4"/>
<line x1="405.2" y1="523.5" x2="428.2" y2="523.5" stroke="#000" stroke-width="1.4"/>
<line x1="416.7" y1="513.3" x2="416.7" y2="523.5" stroke="#000" stroke-width="1.4"/>
<polyline points="353,384 353,377 420.6,377 420.6,384" fill="none" stroke="#000" stroke-width="1.35"/>
<text x="387.7" y="372" font-size="10" font-weight="bold" font-style="italic" text-anchor="middle" >P &lt; 0.001</text>
<text x="239.3" y="355.3" font-size="25.5" font-weight="bold" font-style="normal" text-anchor="start" letter-spacing="1.5">(e)</text>
<text transform="translate(268.3,465.2) rotate(-90)" font-size="17.2" font-weight="bold" text-anchor="middle">Serum IP-10 (pg/mL)</text>
<text transform="translate(342.8,589.1) rotate(-45)" font-size="15.2" font-weight="bold" text-anchor="end">Control</text>
<text transform="translate(411.0,589.1) rotate(-45)" font-size="15.2" font-weight="bold" text-anchor="end">Acute HF</text>
<line x1="545.8" y1="373.4" x2="545.8" y2="566.6" stroke="#000" stroke-width="1.4"/>
<line x1="539.8" y1="374" x2="545.8" y2="374" stroke="#000" stroke-width="1.4"/>
<text x="537.5" y="380.5" font-size="16" font-weight="bold" font-style="normal" text-anchor="end" >400</text>
<line x1="539.8" y1="422" x2="545.8" y2="422" stroke="#000" stroke-width="1.4"/>
<text x="537.5" y="428.5" font-size="16" font-weight="bold" font-style="normal" text-anchor="end" >300</text>
<line x1="539.8" y1="470.5" x2="545.8" y2="470.5" stroke="#000" stroke-width="1.4"/>
<text x="537.5" y="477.0" font-size="16" font-weight="bold" font-style="normal" text-anchor="end" >200</text>
<line x1="539.8" y1="518.3" x2="545.8" y2="518.3" stroke="#000" stroke-width="1.4"/>
<text x="537.5" y="524.8" font-size="16" font-weight="bold" font-style="normal" text-anchor="end" >100</text>
<line x1="539.8" y1="566" x2="545.8" y2="566" stroke="#000" stroke-width="1.4"/>
<text x="537.5" y="572.5" font-size="16" font-weight="bold" font-style="normal" text-anchor="end" >0</text>
<line x1="539.8" y1="566" x2="683.5" y2="566" stroke="#000" stroke-width="1.4"/>
<line x1="580.3" y1="566" x2="580.3" y2="571.5" stroke="#000" stroke-width="1.4"/>
<line x1="648.8" y1="566" x2="648.8" y2="571.5" stroke="#000" stroke-width="1.4"/>
<circle cx="580.6" cy="504.3" r="4.0" fill="none" stroke="#000" stroke-width="1.45"/>
<circle cx="580.6" cy="525" r="4.0" fill="none" stroke="#000" stroke-width="1.45"/>
<circle cx="580.5" cy="540.1" r="4.0" fill="none" stroke="#000" stroke-width="1.45"/>
<circle cx="562.3" cy="544" r="4.0" fill="none" stroke="#000" stroke-width="1.45"/>
<circle cx="585.7" cy="546.2" r="4.0" fill="none" stroke="#000" stroke-width="1.45"/>
<circle cx="573.9" cy="548.2" r="4.0" fill="none" stroke="#000" stroke-width="1.45"/>
<circle cx="591.8" cy="549.7" r="4.0" fill="none" stroke="#000" stroke-width="1.45"/>
<circle cx="568.2" cy="550.6" r="4.0" fill="none" stroke="#000" stroke-width="1.45"/>
<circle cx="580" cy="551" r="4.0" fill="none" stroke="#000" stroke-width="1.45"/>
<circle cx="567.8" cy="558.9" r="4.0" fill="none" stroke="#000" stroke-width="1.45"/>
<circle cx="573.9" cy="558.9" r="4.0" fill="none" stroke="#000" stroke-width="1.45"/>
<circle cx="580" cy="558.9" r="4.0" fill="none" stroke="#000" stroke-width="1.45"/>
<circle cx="586.6" cy="558.9" r="4.0" fill="none" stroke="#000" stroke-width="1.45"/>
<circle cx="592.3" cy="558.9" r="4.0" fill="none" stroke="#000" stroke-width="1.45"/>
<circle cx="561.5" cy="563.5" r="4.0" fill="none" stroke="#000" stroke-width="1.45"/>
<circle cx="565" cy="563.5" r="4.0" fill="none" stroke="#000" stroke-width="1.45"/>
<circle cx="568.5" cy="563.5" r="4.0" fill="none" stroke="#000" stroke-width="1.45"/>
<circle cx="572" cy="563.5" r="4.0" fill="none" stroke="#000" stroke-width="1.45"/>
<circle cx="575.5" cy="563.5" r="4.0" fill="none" stroke="#000" stroke-width="1.45"/>
<circle cx="579" cy="563.5" r="4.0" fill="none" stroke="#000" stroke-width="1.45"/>
<circle cx="582.5" cy="563.5" r="4.0" fill="none" stroke="#000" stroke-width="1.45"/>
<circle cx="586" cy="563.5" r="4.0" fill="none" stroke="#000" stroke-width="1.45"/>
<circle cx="589.5" cy="563.5" r="4.0" fill="none" stroke="#000" stroke-width="1.45"/>
<circle cx="593" cy="563.5" r="4.0" fill="none" stroke="#000" stroke-width="1.45"/>
<circle cx="597" cy="563.5" r="4.0" fill="none" stroke="#000" stroke-width="1.45"/>
<circle cx="648.6" cy="423.1" r="4.55" fill="#000"/>
<circle cx="660.7" cy="496.5" r="4.55" fill="#000"/>
<circle cx="648.6" cy="501.8" r="4.55" fill="#000"/>
<circle cx="648.6" cy="514.5" r="4.55" fill="#000"/>
<circle cx="648.6" cy="527.6" r="4.55" fill="#000"/>
<circle cx="642.3" cy="539.6" r="4.55" fill="#000"/>
<circle cx="636.6" cy="542.7" r="4.55" fill="#000"/>
<circle cx="648.9" cy="545.3" r="4.55" fill="#000"/>
<circle cx="660.5" cy="541.8" r="4.55" fill="#000"/>
<circle cx="636.6" cy="559.8" r="4.55" fill="#000"/>
<circle cx="648.9" cy="559.8" r="4.55" fill="#000"/>
<circle cx="660.3" cy="559.8" r="4.55" fill="#000"/>
<circle cx="630.5" cy="565.9" r="4.55" fill="#000"/>
<circle cx="636.6" cy="565.9" r="4.55" fill="#000"/>
<circle cx="642.8" cy="565.9" r="4.55" fill="#000"/>
<circle cx="648.9" cy="565.9" r="4.55" fill="#000"/>
<circle cx="655" cy="565.9" r="4.55" fill="#000"/>
<circle cx="660.3" cy="565.9" r="4.55" fill="#000"/>
<circle cx="666" cy="565.9" r="4.55" fill="#000"/>
<line x1="556.8" y1="555.8" x2="602.8" y2="555.8" stroke="#000" stroke-width="1.5"/>
<line x1="569.8" y1="553.5" x2="589.8" y2="553.5" stroke="#000" stroke-width="1.4"/>
<line x1="569.8" y1="558" x2="589.8" y2="558" stroke="#000" stroke-width="1.4"/>
<line x1="579.8" y1="553.5" x2="579.8" y2="558" stroke="#000" stroke-width="1.4"/>
<line x1="625.3" y1="553.2" x2="672.3" y2="553.2" stroke="#000" stroke-width="1.5"/>
<line x1="637.8" y1="548.2" x2="659.8" y2="548.2" stroke="#000" stroke-width="1.4"/>
<line x1="637.8" y1="558" x2="659.8" y2="558" stroke="#000" stroke-width="1.4"/>
<line x1="648.8" y1="548.2" x2="648.8" y2="558" stroke="#000" stroke-width="1.4"/>
<text x="615.9" y="382.8" font-size="10.5" font-weight="bold" font-style="italic" text-anchor="middle" >N.S.</text>
<text x="482.3" y="354.5" font-size="25.5" font-weight="bold" font-style="normal" text-anchor="start" letter-spacing="1.5">(f)</text>
<text transform="translate(498.7,458.4) rotate(-90)" font-size="16.7" font-weight="bold" text-anchor="middle">Serum MIP-1<tspan font-style="italic">α</tspan> (pg/mL)</text>
<text transform="translate(585.8,588.3) rotate(-45)" font-size="15.2" font-weight="bold" text-anchor="end">Control</text>
<text transform="translate(654.3,588.3) rotate(-45)" font-size="15.2" font-weight="bold" text-anchor="end">Acute HF</text>
</svg>
</body></html>
